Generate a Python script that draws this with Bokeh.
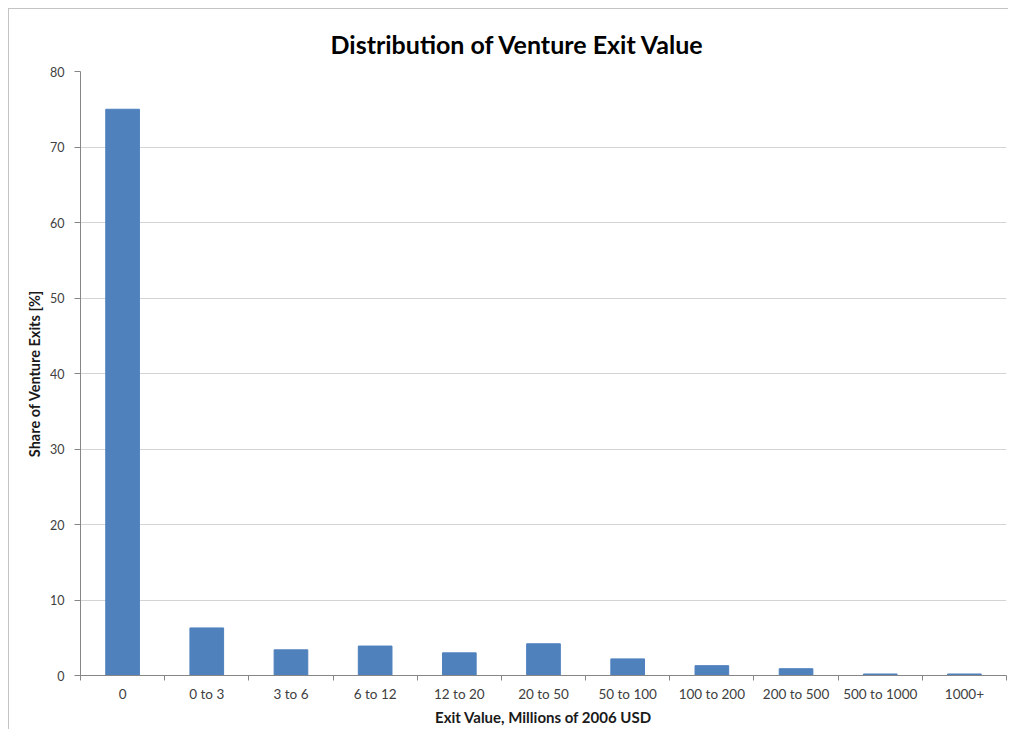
from bokeh.plotting import figure
from bokeh.models import Range1d, FixedTicker, ColumnDataSource
from bokeh.embed import file_html
from bokeh.resources import INLINE

categories = ["0", "0 to 3", "3 to 6", "6 to 12", "12 to 20", "20 to 50",
              "50 to 100", "100 to 200", "200 to 500", "500 to 1000", "1000+"]
shares = [75.0, 6.3, 3.4, 3.9, 3.0, 4.2, 2.2, 1.3, 0.9, 0.2, 0.2]
y_ticks = [0, 10, 20, 30, 40, 50, 60, 70, 80]

centers = [i + 0.5 for i in range(len(categories))]
bounds = list(range(len(categories) + 1))
src = ColumnDataSource(dict(x=centers, top=shares, cat=categories))

FONT = "Lato"

p = figure(width=1000, height=721, output_backend="svg", toolbar_location=None,
           x_range=Range1d(0, len(categories)), y_range=Range1d(0, 80),
           title="Distribution of Venture Exit Value",
           min_border_left=71, min_border_top=62, min_border_bottom=55, min_border_right=3)
p.styles = {"margin-left": "8px", "margin-top": "8px",
            "border-left": "1px solid #c4c4c4", "border-top": "1px solid #c4c4c4"}

p.vbar(x="x", top="top", width=0.4, bottom=0, source=src,
       fill_color="#4F81BD", line_color="#4F81BD", line_width=1)

p.title.text_font = FONT
p.title.text_font_size = "25px"
p.title.text_font_style = "bold"
p.title.text_color = "#000000"
p.title.align = "left"
p.title.offset = 250
p.title.standoff = 26

p.outline_line_color = None
p.background_fill_color = "white"
p.border_fill_color = "white"

# x axis
xa = p.xaxis[0]
xa.ticker = FixedTicker(ticks=centers, minor_ticks=bounds)
xa.major_label_overrides = {c: lab for c, lab in zip(centers, categories)}
xa.major_tick_out = 0
xa.major_tick_in = 0
xa.minor_tick_out = 5
xa.minor_tick_in = 0
xa.minor_tick_line_color = "#868686"
xa.axis_line_color = "#868686"
xa.major_label_text_font = FONT
xa.major_label_text_font_size = "13.5px"
xa.major_label_text_color = "#404040"
xa.major_label_standoff = 5
xa.axis_label = "Exit Value, Millions of 2006 USD"
xa.axis_label_text_font = FONT
xa.axis_label_text_font_size = "15px"
xa.axis_label_text_font_style = "bold"
xa.axis_label_text_color = "#1a1a1a"
xa.axis_label_standoff = 3

# y axis
ya = p.yaxis[0]
ya.ticker = FixedTicker(ticks=y_ticks)
ya.minor_tick_line_color = None
ya.major_tick_out = 6
ya.major_tick_in = 0
ya.major_tick_line_color = "#868686"
ya.axis_line_color = "#868686"
ya.major_label_text_font = FONT
ya.major_label_text_font_size = "12.5px"
ya.major_label_text_color = "#404040"
ya.major_label_standoff = 10
ya.axis_label = "Share of Venture Exits [%]"
ya.axis_label_text_font = FONT
ya.axis_label_text_font_size = "14.5px"
ya.axis_label_text_font_style = "bold"
ya.axis_label_text_color = "#1a1a1a"
ya.axis_label_standoff = 4

p.xgrid.grid_line_color = None
p.ygrid.ticker = FixedTicker(ticks=y_ticks)
p.ygrid.grid_line_color = "#d4d4d4"
p.ygrid.grid_line_width = 1

open("out.html", "w").write(file_html(p, INLINE))
